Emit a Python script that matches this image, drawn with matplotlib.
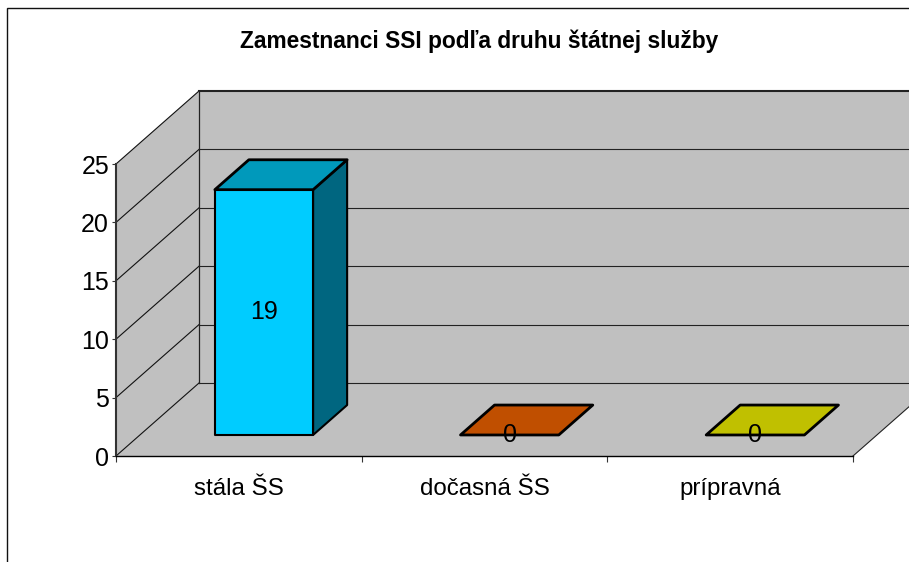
import matplotlib
matplotlib.use('Agg')
import matplotlib.pyplot as plt
from matplotlib.patches import Polygon, Rectangle

plt.rcParams['font.family'] = ['Liberation Sans', 'DejaVu Sans']

# Data
title = 'Zamestnanci SSI podľa druhu štátnej služby'
categories = ['stála ŠS', 'dočasná ŠS', 'prípravná']
heights = [21, 0, 0]  # drawn height of the bars
labels = ['19', '0', '0']  # the labels as printed
front_colors = ['#00CCFF', '#C04F00', '#C0C000']
top_colors = ['#0099BB', '#C04F00', '#C0C000']
side_colors = ['#006680', '#803500', '#808000']
yticks = [0, 5, 10, 15, 20, 25]

W, H = 909, 562
fig = plt.figure(figsize=(W / 100, H / 100), dpi=100)
ax = fig.add_axes([116 / W, 1 - 456 / H, 737 / W, 292 / H])
ax.set_xlim(0, 3)
ax.set_ylim(0, 25)
ax.patch.set_visible(False)
for s in ax.spines.values():
    s.set_visible(False)

# oblique depth: one full depth of the box, in data units
DX = 83 / 737 * 3
DY = 73 / 292 * 25


def proj(x, y, d):
    return (x + d * DX, y + d * DY)


def face(pts, color, lw=1.0, z=1, edge='black'):
    ax.add_patch(Polygon([proj(*p) for p in pts], closed=True, facecolor=color,
                         edgecolor=edge, linewidth=lw, zorder=z, clip_on=False,
                         joinstyle='round'))


GREY = '#C0C0C0'
# floor, side wall, back wall
face([(0, 0, 0), (3, 0, 0), (3, 0, 1), (0, 0, 1)], GREY, 0, 1, 'none')
face([(0, 0, 0), (0, 0, 1), (0, 25, 1), (0, 25, 0)], GREY, 0, 1, 'none')
face([(0, 0, 1), (3, 0, 1), (3, 25, 1), (0, 25, 1)], GREY, 0, 1, 'none')

# grid lines on the two walls
for v in yticks:
    xs, ys = zip(proj(0, v, 0), proj(0, v, 1), proj(3, v, 1))
    lw = 1.5 if v == 25 else 0.8
    ax.plot(xs[:2], ys[:2], color='#111111', lw=0.8, zorder=2, clip_on=False)
    ax.plot(xs[1:], ys[1:], color='#222222', lw=lw, zorder=2, clip_on=False)
xs, ys = zip(proj(0, 0, 1), proj(0, 25, 1))
ax.plot(xs, ys, color='#222222', lw=0.9, zorder=2, clip_on=False)
xs, ys = zip(proj(3, 0, 0), proj(3, 0, 1))
ax.plot(xs, ys, color='#222222', lw=0.8, zorder=2, clip_on=False)
ax.plot([0, 0], [0, 25], color='#333333', lw=1.5, zorder=2, clip_on=False)
ax.plot([0, 3], [0, 0], color='black', lw=1.0, zorder=2, clip_on=False)

# bars
D0, D1 = 0.288, 0.698
for i, h in enumerate(heights):
    x0, x1 = i + 0.305, i + 0.705
    if h > 0:
        face([(x1, 0, D0), (x1, 0, D1), (x1, h, D1), (x1, h, D0)], side_colors[i], 1.5, 3)
    face([(x0, h, D0), (x1, h, D0), (x1, h, D1), (x0, h, D1)], top_colors[i], 2.0, 3)
    if h > 0:
        face([(x0, 0, D0), (x1, 0, D0), (x1, h, D0), (x0, h, D0)], front_colors[i], 1.5, 4)
    lx, ly = proj((x0 + x1) / 2, h / 2, D0)
    ax.text(lx, ly, labels[i], ha='center', va='center', fontsize=18, color='black', zorder=5,
            clip_on=False)

# axes ticks and labels
ax.set_yticks(yticks)
ax.set_yticklabels([str(v) for v in yticks], fontsize=18)
ax.tick_params(axis='y', length=3, width=0.8, pad=2, color='#333333')
ax.set_xticks([0, 1, 2, 3])
ax.set_xticklabels(['', '', '', ''])
ax.set_xticks([0.5, 1.5, 2.5], minor=True)
ax.set_xticklabels(categories, minor=True, fontsize=17.4)
ax.tick_params(axis='x', which='major', length=4.5, width=0.8, color='#333333')
ax.tick_params(axis='x', which='minor', length=0, pad=15.5)

# outer frame runs off the right and bottom edges
fig.add_artist(Rectangle((6.5 / W, -0.1), 1.1, 1.1 - 7.5 / H, transform=fig.transFigure,
                         fill=False, edgecolor='#111111', linewidth=1.0))

fig.text(479 / W, 1 - 41 / H, title, ha='center', va='center', fontsize=16.4, fontweight='bold')

fig.savefig('out.png', dpi=100, facecolor='white')
